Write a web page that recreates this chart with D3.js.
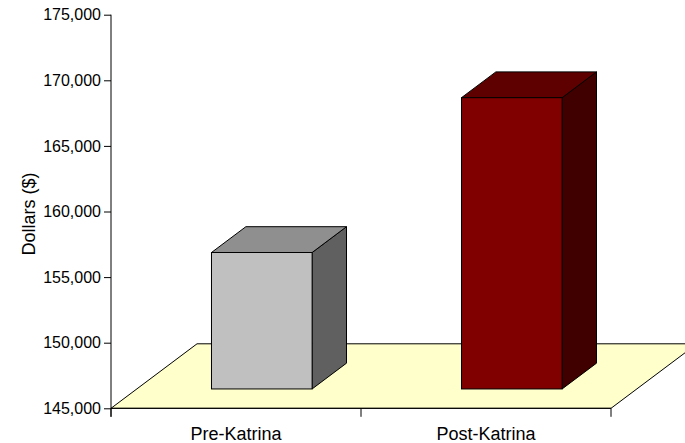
<!DOCTYPE html>
<html>
<head>
<meta charset="utf-8">
<script src="https://cdn.jsdelivr.net/npm/d3@7"></script>
<style>
  html, body { margin: 0; padding: 0; background: #fff; }
  svg { display: block; font-family: "Liberation Sans", Arial, sans-serif; }
</style>
</head>
<body>
<svg id="chart" width="685" height="443"></svg>
<script>
// Data
const categories = ["Pre-Katrina", "Post-Katrina"];
const values = [155400, 167200];
const frontColors = ["#C0C0C0", "#800000"];
const topColors = ["#8F8F8F", "#5E0000"];
const sideColors = ["#606060", "#400000"];
const yTicks = [145000, 150000, 155000, 160000, 165000, 170000, 175000];
const yTitle = "Dollars ($)";

const svg = d3.select("#chart");

// Layout
const left = 111, right = 611;
const yBase = 408.3, yTop = 14.7;
const depthX = 86, depthY = -64.5;     // full floor depth offset
const d0 = 0.3, d1 = 0.7;              // bar depth span fractions

const y = d3.scaleLinear().domain([yTicks[0], yTicks[yTicks.length - 1]]).range([yBase, yTop]);
const x = d3.scaleBand().domain(categories).range([left, right]).paddingInner(0).paddingOuter(0);
const barW = x.bandwidth() * 0.4025;

// Floor
const floorPts = [
  [left, yBase], [right, yBase],
  [right + depthX, yBase + depthY], [left + depthX, yBase + depthY]
];
svg.append("polygon")
  .attr("points", floorPts.map(p => p.join(",")).join(" "))
  .attr("fill", "#FFFFCC")
  .attr("stroke", "#000")
  .attr("stroke-width", 1);

// Bars
categories.forEach((c, i) => {
  const cx = x(c) + x.bandwidth() / 2;
  const fx0 = cx - barW / 2 + depthX * d0;
  const fx1 = cx + barW / 2 + depthX * d0;
  const fyT = y(values[i]) + depthY * d0;
  const fyB = y(yTicks[0]) + depthY * d0;
  const ddx = depthX * (d1 - d0), ddy = depthY * (d1 - d0);
  const g = svg.append("g");
  // side
  g.append("polygon")
    .attr("points", [[fx1, fyT], [fx1 + ddx, fyT + ddy], [fx1 + ddx, fyB + ddy], [fx1, fyB]].map(p => p.join(",")).join(" "))
    .attr("fill", sideColors[i]).attr("stroke", "#000").attr("stroke-width", 1).attr("stroke-linejoin", "round");
  // top
  g.append("polygon")
    .attr("points", [[fx0, fyT], [fx1, fyT], [fx1 + ddx, fyT + ddy], [fx0 + ddx, fyT + ddy]].map(p => p.join(",")).join(" "))
    .attr("fill", topColors[i]).attr("stroke", "#000").attr("stroke-width", 1).attr("stroke-linejoin", "round");
  // front
  g.append("rect")
    .attr("x", fx0).attr("y", fyT)
    .attr("width", fx1 - fx0).attr("height", fyB - fyT)
    .attr("fill", frontColors[i]).attr("stroke", "#000").attr("stroke-width", 1);
});

// Y axis
const yAxis = d3.axisLeft(y)
  .tickValues(yTicks)
  .tickFormat(d3.format(","))
  .tickSize(7)
  .tickPadding(3)
  .tickSizeOuter(0);
const yg = svg.append("g").attr("transform", `translate(${left},0)`).call(yAxis);
yg.select(".domain").remove();
yg.selectAll("text").attr("font-size", 16).attr("font-family", "Liberation Sans, Arial, sans-serif").attr("fill", "#000");
yg.selectAll("line").attr("stroke", "#000");
svg.append("line")
  .attr("x1", left).attr("x2", left)
  .attr("y1", yTop).attr("y2", yBase + 8.5)
  .attr("stroke", "#000");

// X axis (front edge of floor)
svg.append("line")
  .attr("x1", left).attr("x2", right)
  .attr("y1", yBase).attr("y2", yBase)
  .attr("stroke", "#000");
const xTickPos = categories.map(c => x(c)).concat([right]);
svg.selectAll(".xtick").data(xTickPos).enter().append("line")
  .attr("x1", d => d).attr("x2", d => d)
  .attr("y1", yBase).attr("y2", yBase + 8.5)
  .attr("stroke", "#000");
svg.selectAll(".xlabel").data(categories).enter().append("text")
  .attr("x", d => x(d) + x.bandwidth() / 2)
  .attr("y", 440)
  .attr("text-anchor", "middle")
  .attr("font-size", 18)
  .attr("fill", "#000")
  .text(d => d);

// Y title
svg.append("text")
  .attr("transform", "translate(35,214) rotate(-90)")
  .attr("text-anchor", "middle")
  .attr("font-size", 18)
  .attr("fill", "#000")
  .text(yTitle);
</script>
</body>
</html>
